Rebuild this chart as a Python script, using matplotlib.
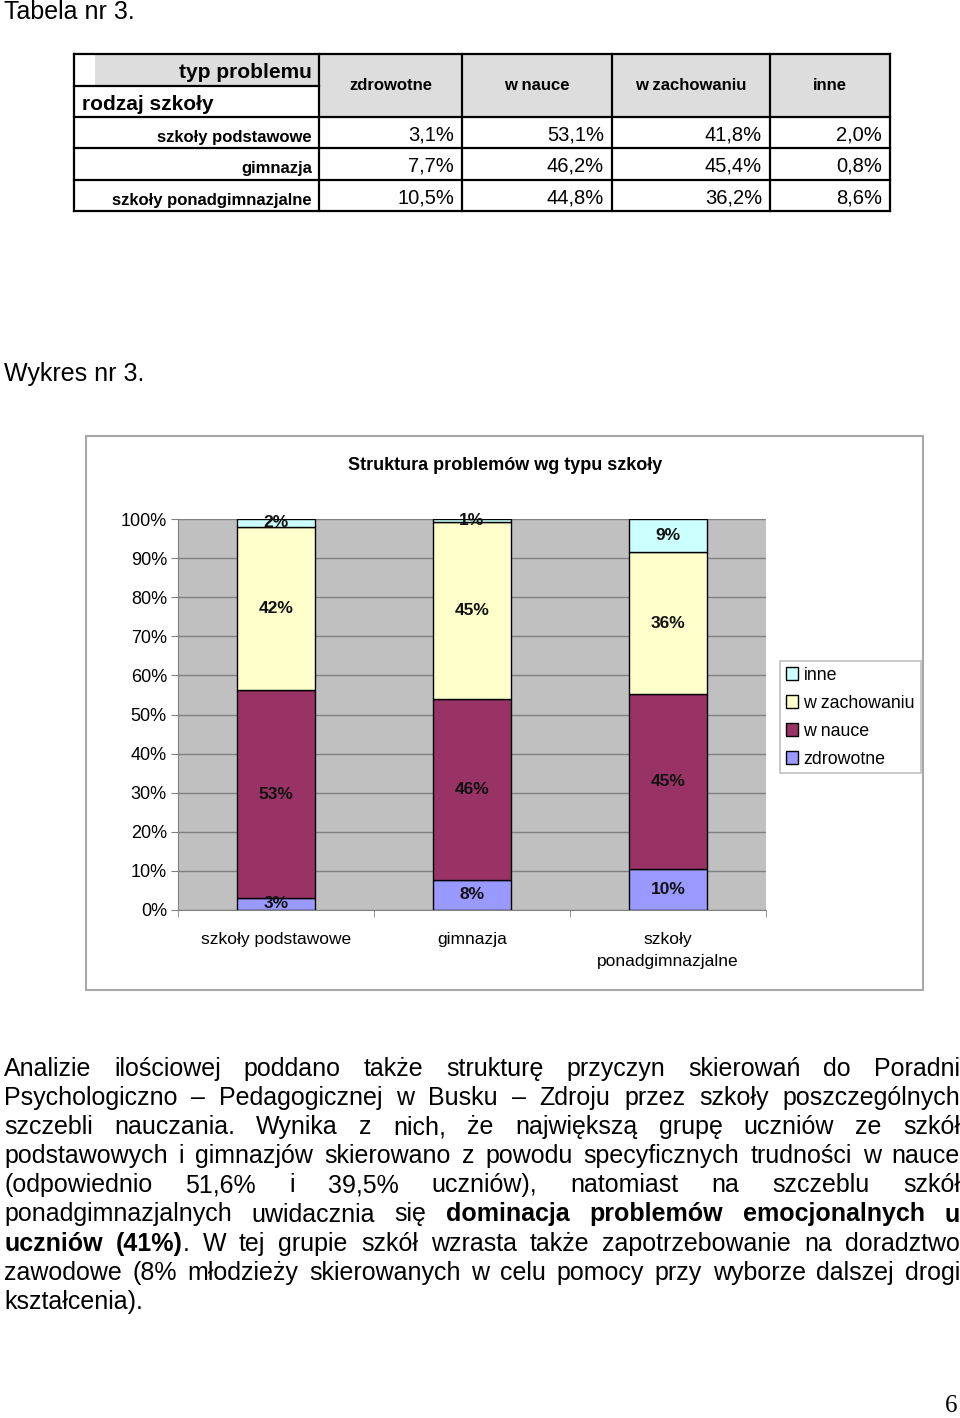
import matplotlib
matplotlib.use('Agg')
import matplotlib.pyplot as plt
from matplotlib.patches import Rectangle, Patch
import numpy as np

plt.rcParams['font.family'] = ['Liberation Sans', 'DejaVu Sans']

# data (table nr 3 / chart nr 3)
schools = ['szkoły podstawowe', 'gimnazja', 'szkoły ponadgimnazjalne']
school_ticks = ['szkoły podstawowe', 'gimnazja', 'szkoły\nponadgimnazjalne']
problems = ['zdrowotne', 'w nauce', 'w zachowaniu', 'inne']
zdrowotne = [3.1, 7.7, 10.5]
w_nauce = [53.1, 46.2, 44.8]
w_zachowaniu = [41.8, 45.4, 36.2]
inne = [2.0, 0.8, 8.6]
colors = ['#9999FF', '#993366', '#FFFFCC', '#CCFFFF']
yticks = list(range(0, 101, 10))

series = [zdrowotne, w_nauce, w_zachowaniu, inne]

W, H = 960, 1418
fig = plt.figure(figsize=(W / 100, H / 100), dpi=100)

# page in pixel coordinates
page = fig.add_axes([0, 0, 1, 1], zorder=0)
page.set_xlim(0, W)
page.set_ylim(H, 0)
page.axis('off')

page.text(4, 19, 'Tabela nr 3.', fontsize=18, va='baseline')
page.text(4, 381, 'Wykres nr 3.', fontsize=18, va='baseline')

# ---- table ----
col_x = [74, 319, 462, 612, 770, 890]
row_y = [54, 117, 148, 180, 211]
hdr_gray = '#DDDDDD'
page.add_patch(Rectangle((95, 54), 319 - 95, 32, color=hdr_gray, lw=0))
page.add_patch(Rectangle((319, 54), 890 - 319, 63, color=hdr_gray, lw=0))
lw = 1.6
for x in col_x:
    page.plot([x, x], [54, 211], color='black', lw=lw)
for y in row_y:
    page.plot([74, 890], [y, y], color='black', lw=lw)
page.plot([74, 319], [86, 86], color='black', lw=lw)

page.text(312, 73, 'typ problemu', fontsize=15, fontweight='bold', ha='right', va='center')
page.text(82, 104, 'rodzaj szkoły', fontsize=15, fontweight='bold', ha='left', va='center')
for j, name in enumerate(problems):
    page.text((col_x[j + 1] + col_x[j + 2]) / 2, 86, name, fontsize=12,
              fontweight='bold', ha='center', va='center')
for i, school in enumerate(schools):
    yc = (row_y[i + 1] + row_y[i + 2]) / 2
    page.text(312, yc + 5, school, fontsize=12, fontweight='bold', ha='right', va='center')
    for j, vals in enumerate(series):
        txt = f'{vals[i]:.1f}%'.replace('.', ',')
        page.text(col_x[j + 2] - 8, yc + 2.5, txt, fontsize=14.5, ha='right', va='center')

# ---- chart ----
page.add_patch(Rectangle((86, 436), 923 - 86, 990 - 436, fill=False,
                         edgecolor='#A8A8A8', lw=1.5))
page.text(505, 465, 'Struktura problemów wg typu szkoły', fontsize=13,
          fontweight='bold', ha='center', va='center')

ax = fig.add_axes([178 / W, 1 - 910 / H, (766 - 178) / W, (910 - 519) / H], zorder=1)
ax.set_facecolor('#C0C0C0')
x = np.arange(len(schools))
bottom = np.zeros(len(schools))
for vals, color, name in zip(series, colors, problems):
    ax.bar(x, vals, 0.4, bottom=bottom, color=color, edgecolor='black', lw=1,
           label=name, zorder=2)
    for xi, b, v in zip(x, bottom, vals):
        ax.text(xi, b + v / 2, f'{round(v)}%', ha='center', va='center',
                fontsize=12.5, fontweight='bold', color='#111111', zorder=3)
    bottom += np.array(vals)

ax.set_xlim(-0.5, 2.5)
ax.set_ylim(0, 100)
ax.set_yticks(yticks)
ax.set_yticklabels([f'{v}%' for v in yticks], fontsize=13)
ax.yaxis.grid(True, color='#808080', lw=1)
ax.set_axisbelow(True)
ax.set_xticks(x)
ax.set_xticklabels(school_ticks, fontsize=12.5, linespacing=1.55)
ax.set_xticks([-0.5, 0.5, 1.5, 2.5], minor=True)
ax.tick_params(axis='x', which='major', length=0, pad=16)
ax.tick_params(axis='x', which='minor', length=5, color='#808080')
ax.tick_params(axis='y', length=5, color='#808080', pad=3)
for s in ['top', 'right']:
    ax.spines[s].set_visible(False)
for s in ['left', 'bottom']:
    ax.spines[s].set_color('#808080')

handles = [Patch(facecolor=c, edgecolor='black', lw=1, label=n)
           for c, n in zip(colors[::-1], problems[::-1])]
leg = fig.legend(handles=handles, loc='upper left',
                 bbox_to_anchor=(780 / W, 1 - 661 / H), fontsize=12.8,
                 frameon=True, fancybox=False, edgecolor='#B0B0B0',
                 handlelength=0.7, handleheight=0.7, handletextpad=0.3,
                 labelspacing=0.62, borderpad=0.32, borderaxespad=0)
leg.get_frame().set_linewidth(1.2)

# ---- body text (justified) ----
body = [
    "Analizie ilościowej poddano także strukturę przyczyn skierowań do Poradni",
    "Psychologiczno – Pedagogicznej w Busku – Zdroju przez szkoły poszczególnych",
    "szczebli nauczania. Wynika z nich, że największą grupę uczniów ze szkół",
    "podstawowych i gimnazjów skierowano z powodu specyficznych trudności w nauce",
    "(odpowiednio 51,6% i 39,5% uczniów), natomiast na szczeblu szkół",
    "ponadgimnazjalnych uwidacznia się **dominacja problemów emocjonalnych u**",
    "**uczniów (41%)**. W tej grupie szkół wzrasta także zapotrzebowanie na doradztwo",
    "zawodowe (8% młodzieży skierowanych w celu pomocy przy wyborze dalszej drogi",
    "kształcenia).",
]
renderer = fig.canvas.get_renderer()
left, right = 4, 960
base, step = 1076, 29.1
bold = False
for li, line in enumerate(body):
    words = []
    for word in line.split(' '):
        pieces = []
        for j, part in enumerate(word.split('**')):
            if j > 0:
                bold = not bold
            if part:
                t = page.text(0, 0, part, fontsize=18, va='baseline',
                              fontweight='bold' if bold else 'normal')
                w = t.get_window_extent(renderer).width
                pieces.append((t, w))
        words.append(pieces)
    widths = [sum(w for _, w in p) for p in words]
    last = li == len(body) - 1
    if last or len(words) == 1:
        gap = 6.9
    else:
        gap = (right - left - sum(widths)) / (len(words) - 1)
    xpos = left
    y = base + li * step
    for pieces, wd in zip(words, widths):
        xx = xpos
        for t, w in pieces:
            t.set_position((xx, y))
            xx += w
        xpos += wd + gap

page.text(957, 1412, '6', fontsize=18, family='Liberation Serif', ha='right', va='baseline')

fig.savefig('out.png', dpi=100)
